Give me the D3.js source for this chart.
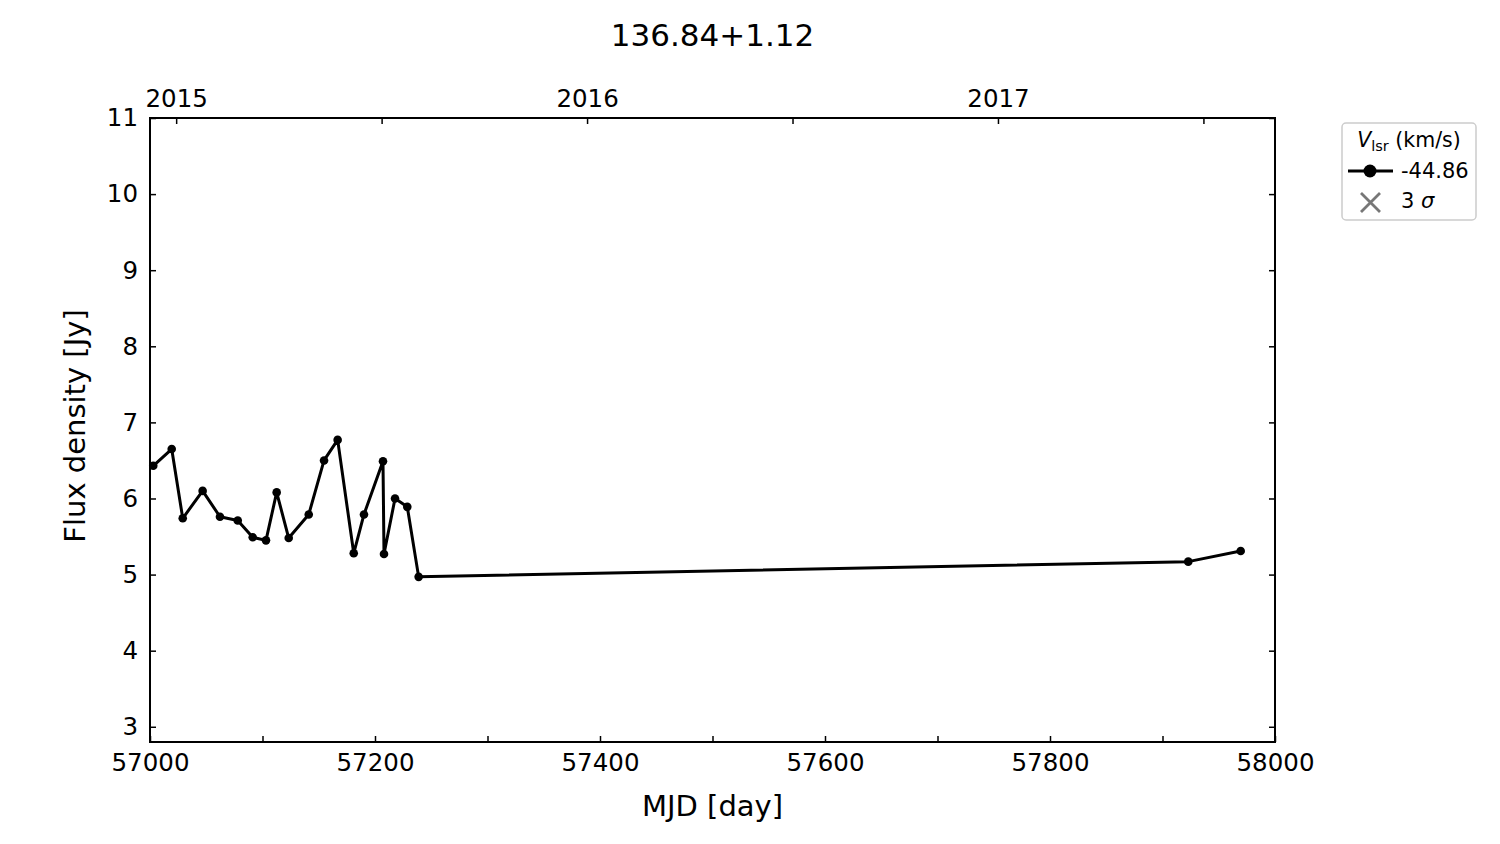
<!DOCTYPE html>
<html>
<head>
<meta charset="utf-8">
<script src="https://d3js.org/d3.v7.min.js"></script>
<style>
  body { margin: 0; background: #fff; }
  svg text { font-family: "DejaVu Sans", sans-serif; fill: #000; }
</style>
</head>
<body>
<script>
  var mjd = [57002.9, 57019.3, 57029.1, 57046.8, 57062.2, 57078.0, 57091.3, 57103.1,
             57112.6, 57123.3, 57141.1, 57154.7, 57166.8, 57181.1, 57190.2, 57207.1,
             57208.0, 57217.8, 57228.7, 57238.8, 57922.9, 57969.5];
  var flux = [6.43, 6.65, 5.74, 6.10, 5.76, 5.71, 5.49, 5.45,
              6.08, 5.48, 5.79, 6.50, 6.77, 5.28, 5.79, 6.49,
              5.27, 6.00, 5.89, 4.97, 5.17, 5.31];
  var xTicks = [57000, 57100, 57200, 57300, 57400, 57500, 57600, 57700, 57800, 57900, 58000];
  var yTicks = [3, 4, 5, 6, 7, 8, 9, 10, 11];
  var yearTicks = [2015, 2015.5, 2016, 2016.5, 2017, 2017.5];
  var yearLabels = [2015, 2016, 2017];

  var W = 1500, H = 844;
  var L = 150, R = 1275, T = 118, B = 742;

  var svg = d3.select("body").append("svg").attr("width", W).attr("height", H);

  var x = d3.scaleLinear().domain([57000, 58000]).range([L, R]);
  var y = d3.scaleLinear().domain([2.8, 11]).range([B, T]);
  // decimal year -> MJD
  function yearToMjd(yr) { return 51544.5 + (yr - 2000) * 365.25; }

  // bottom axis
  var xb = svg.append("g").attr("transform", "translate(0," + B + ")")
    .call(d3.axisBottom(x).tickValues(xTicks).tickSizeInner(-6).tickSizeOuter(0)
      .tickPadding(12).tickFormat(function (d) { return d % 200 === 0 ? d : ""; }));
  // top axis (years)
  var xt = svg.append("g").attr("transform", "translate(0," + T + ")")
    .call(d3.axisTop(x).tickValues(yearTicks.map(yearToMjd)).tickSizeInner(-6).tickSizeOuter(0)
      .tickPadding(11).tickFormat(function (d, i) {
        var yr = yearTicks[i];
        return yearLabels.indexOf(yr) >= 0 ? yr : "";
      }));
  // left axis
  var yl = svg.append("g").attr("transform", "translate(" + L + ",0)")
    .call(d3.axisLeft(y).tickValues(yTicks).tickSizeInner(-6).tickSizeOuter(0).tickPadding(12));
  // right axis, no labels
  var yr = svg.append("g").attr("transform", "translate(" + R + ",0)")
    .call(d3.axisRight(y).tickValues(yTicks).tickSizeInner(-6).tickSizeOuter(0).tickFormat(""));

  [xb, xt, yl, yr].forEach(function (g) {
    g.select(".domain").remove();
    g.selectAll(".tick line").attr("stroke", "#000").attr("stroke-width", 1.5);
    g.selectAll(".tick text").style("font-size", "24.5px").style("font-family", "DejaVu Sans");
  });

  // frame
  svg.append("rect").attr("x", L).attr("y", T).attr("width", R - L).attr("height", B - T)
    .attr("fill", "none").attr("stroke", "#000").attr("stroke-width", 2);

  // series
  var pts = mjd.map(function (d, i) { return [d, flux[i]]; });
  var line = d3.line().x(function (d) { return x(d[0]); }).y(function (d) { return y(d[1]); });
  svg.append("path").datum(pts).attr("d", line)
    .attr("fill", "none").attr("stroke", "#000").attr("stroke-width", 3)
    .attr("stroke-linejoin", "round");
  svg.selectAll("circle.pt").data(pts).enter().append("circle")
    .attr("class", "pt")
    .attr("cx", function (d) { return x(d[0]); })
    .attr("cy", function (d) { return y(d[1]); })
    .attr("r", 4.3).attr("fill", "#000");

  // title and labels
  svg.append("text").attr("x", (L + R) / 2).attr("y", 46).attr("text-anchor", "middle")
    .style("font-size", "31px").text("136.84+1.12");
  svg.append("text").attr("x", (L + R) / 2).attr("y", 816).attr("text-anchor", "middle")
    .style("font-size", "29px").text("MJD [day]");
  svg.append("text").attr("transform", "translate(85,426) rotate(-90)")
    .attr("text-anchor", "middle").style("font-size", "29px").text("Flux density [Jy]");

  // legend
  var lg = svg.append("g");
  lg.append("rect").attr("x", 1342).attr("y", 123).attr("width", 134).attr("height", 97)
    .attr("rx", 4).attr("fill", "#fff").attr("stroke", "#ccc").attr("stroke-width", 1.5);
  var lt = lg.append("text").attr("x", 1409).attr("y", 147).attr("text-anchor", "middle")
    .style("font-size", "20.5px");
  lt.append("tspan").style("font-style", "italic").text("V");
  lt.append("tspan").style("font-size", "14.5px").attr("dy", 4).text("lsr");
  lt.append("tspan").attr("dy", -4).text(" (km/s)");
  lg.append("line").attr("x1", 1348).attr("x2", 1393).attr("y1", 171).attr("y2", 171)
    .attr("stroke", "#000").attr("stroke-width", 3);
  lg.append("circle").attr("cx", 1370).attr("cy", 171).attr("r", 6.5).attr("fill", "#000");
  lg.append("text").attr("x", 1401).attr("y", 178).style("font-size", "21px").text("-44.86");
  lg.append("path").attr("d", "M1361,193L1380,212M1361,212L1380,193")
    .attr("stroke", "#777").attr("stroke-width", 2.8);
  var st = lg.append("text").attr("x", 1401).attr("y", 208).style("font-size", "21px");
  st.append("tspan").text("3 ");
  st.append("tspan").style("font-style", "italic").text("σ");
</script>
</body>
</html>
